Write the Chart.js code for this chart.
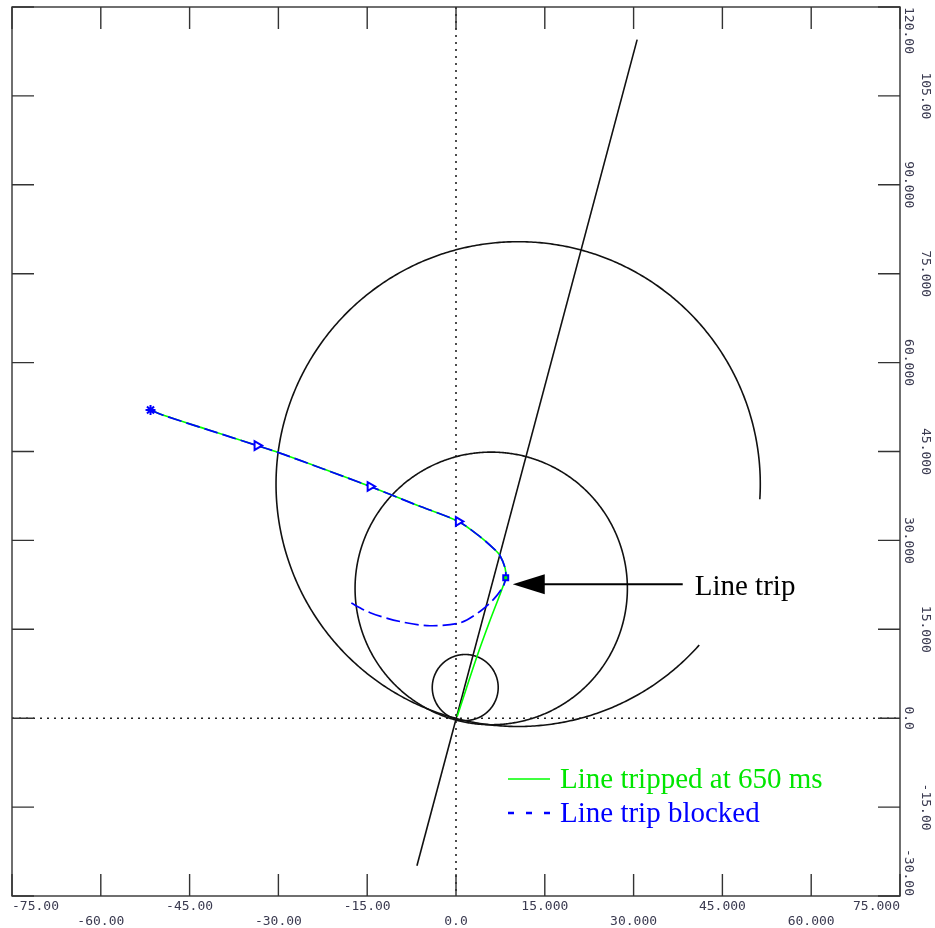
<!DOCTYPE html>
<html><head><meta charset="utf-8">
<script src="https://cdn.jsdelivr.net/npm/chart.js@4/dist/chart.umd.min.js"></script>
<style>html,body{margin:0;padding:0;background:#fff;}#wrap{width:935px;height:928px;position:relative;}</style>
</head><body><div id="wrap"><canvas id="c"></canvas></div>
<script>
// ---- axes ----
const xTickValues = [-75,-60,-45,-30,-15,0,15,30,45,60,75];
const xTickLabels = ['-75.00','-60.00','-45.00','-30.00','-15.00','0.0','15.000','30.000','45.000','60.000','75.000'];
const yTickValues = [120,105,90,75,60,45,30,15,0,-15,-30];
const yTickLabels = ['120.00','105.00','90.000','75.000','60.000','45.000','30.000','15.000','0.0','-15.00','-30.00'];

// ---- impedance trajectory before the trip (common part) ----
const preTripX = [-51.6,-49.4,-42.0,-33.6,-30.2,-22.0,-14.5,-7.0,0.4,4.1,6.6,7.4,8.3,8.4];
const preTripY = [ 52.0, 51.1, 48.7, 46.0, 44.9, 41.9, 39.1,36.1,33.2,30.6,28.4,27.5,25.3,23.7];
// ---- after trip: line tripped at 650 ms ----
const trippedX = [7.7,5.6,3.5,1.8,0.2];
const trippedY = [21.6,16.1,10.3,5.2,0.3];
// ---- after trip: line trip blocked ----
const blockedX = [8.0,6.3,4.1,0.7,-4.4,-9.4,-14.5,-18.2];
const blockedY = [22.3,20.0,18.05,16.1,15.6,16.3,17.8,19.7];
// ---- markers on the trajectory ----
const markerX = [-51.6,-33.6,-14.5,0.4,8.4];
const markerY = [52.0,46.0,39.1,33.2,23.7];
const markerStyle = ['star','triangle','triangle','triangle','rect'];
const tripIndex = 4;

// ---- relay characteristics ----
const circleCX = [10.5, 5.95, 1.56];
const circleCY = [39.5, 21.9, 5.18];
const circleR  = [40.9, 23.0, 5.57];
const circleFromDeg = [-3.6, 0, 0];
const circleToDeg   = [318.6, 360, 360];
const angleLineX = [-6.6, 30.6];
const angleLineY = [-24.9, 114.5];

const legendLabels = ['Line tripped at 650 ms','Line trip blocked'];
const annotationText = 'Line trip';

function pts(xs, ys){ return xs.map((x,i)=>({x:x,y:ys[i]})); }

const GREEN = '#00ff00', BLUE = '#0000ff', AXIS = '#333333';

const framePlugin = {
  id:'frame',
  beforeDatasetsDraw(chart){
    const {ctx, chartArea:a, scales:{x:xs, y:ys}} = chart;
    ctx.save();
    // dotted zero axes
    ctx.strokeStyle = '#222'; ctx.lineWidth = 1.6; ctx.setLineDash([2,5]);
    const x0 = xs.getPixelForValue(0), y0 = ys.getPixelForValue(0);
    ctx.beginPath(); ctx.moveTo(x0, a.top); ctx.lineTo(x0, a.bottom); ctx.stroke();
    ctx.beginPath(); ctx.moveTo(a.left, y0); ctx.lineTo(a.right, y0); ctx.stroke();
    ctx.setLineDash([]);
    // circles (mho characteristics)
    ctx.strokeStyle = '#111'; ctx.lineWidth = 1.6;
    for (let k=0;k<circleCX.length;k++){
      ctx.beginPath();
      let first = true;
      for (let d=circleFromDeg[k]; d<=circleToDeg[k]+1e-9; d+=0.5){
        const t = d*Math.PI/180;
        const px = xs.getPixelForValue(circleCX[k]+circleR[k]*Math.cos(t));
        const py = ys.getPixelForValue(circleCY[k]+circleR[k]*Math.sin(t));
        if(first){ctx.moveTo(px,py);first=false;} else ctx.lineTo(px,py);
      }
      ctx.stroke();
    }
    // frame
    ctx.strokeStyle = AXIS; ctx.lineWidth = 1.4;
    ctx.strokeRect(a.left, a.top, a.right-a.left, a.bottom-a.top);
    const TL = 22;
    ctx.beginPath();
    xTickValues.forEach(v=>{
      const px = xs.getPixelForValue(v);
      ctx.moveTo(px, a.bottom); ctx.lineTo(px, a.bottom-TL);
      ctx.moveTo(px, a.top); ctx.lineTo(px, a.top+TL);
    });
    yTickValues.forEach(v=>{
      const py = ys.getPixelForValue(v);
      ctx.moveTo(a.left, py); ctx.lineTo(a.left+TL, py);
      ctx.moveTo(a.right, py); ctx.lineTo(a.right-TL, py);
    });
    ctx.stroke();
    ctx.restore();
  },
  afterDraw(chart){
    const {ctx, chartArea:a, scales:{x:xs, y:ys}} = chart;
    ctx.save();
    ctx.font = '13px "DejaVu Sans Mono"';
    ctx.fillStyle = '#3a3a50';
    ctx.textBaseline = 'middle';
    // bottom labels, alternating rows
    xTickLabels.forEach((lab,i)=>{
      const w = ctx.measureText(lab).width;
      let cx = xs.getPixelForValue(xTickValues[i]);
      cx = Math.max(a.left + w/2, Math.min(a.right - w/2, cx));
      const cy = a.bottom + (i%2===0 ? 11 : 26);
      ctx.textAlign = 'center';
      ctx.fillText(lab, cx, cy);
    });
    // right labels, rotated, alternating columns
    yTickLabels.forEach((lab,i)=>{
      const w = ctx.measureText(lab).width;
      let cy = ys.getPixelForValue(yTickValues[i]);
      cy = Math.max(a.top + w/2, Math.min(a.bottom - w/2, cy));
      const cx = a.right + (i%2===0 ? 8.5 : 25.5);
      ctx.save(); ctx.translate(cx, cy); ctx.rotate(Math.PI/2);
      ctx.textAlign = 'center'; ctx.fillText(lab, 0, 0); ctx.restore();
    });
    // annotation arrow to trip point
    const tx = xs.getPixelForValue(markerX[tripIndex]) + 7;
    const ty = ys.getPixelForValue(markerY[tripIndex]) + 6.5;
    ctx.strokeStyle = '#000'; ctx.fillStyle = '#000'; ctx.lineWidth = 2;
    ctx.beginPath(); ctx.moveTo(tx+25, ty); ctx.lineTo(tx+170, ty); ctx.stroke();
    ctx.beginPath(); ctx.moveTo(tx, ty); ctx.lineTo(tx+32, ty-10); ctx.lineTo(tx+32, ty+10); ctx.closePath(); ctx.fill();
    ctx.font = '29px "Liberation Serif"';
    ctx.textAlign = 'left'; ctx.textBaseline = 'alphabetic';
    ctx.fillText(annotationText, tx+182, ty+11);
    // legend
    const lx = 508, ly1 = 779, ly2 = 813;
    ctx.strokeStyle = GREEN; ctx.lineWidth = 1.5;
    ctx.beginPath(); ctx.moveTo(lx, ly1); ctx.lineTo(lx+42, ly1); ctx.stroke();
    ctx.fillStyle = '#00e600';
    ctx.fillText(legendLabels[0], lx+52, ly1+9);
    ctx.strokeStyle = BLUE; ctx.lineWidth = 2.5; ctx.setLineDash([6,12]);
    ctx.beginPath(); ctx.moveTo(lx, ly2); ctx.lineTo(lx+42, ly2); ctx.stroke();
    ctx.setLineDash([]);
    ctx.fillStyle = BLUE;
    ctx.fillText(legendLabels[1], lx+52, ly2+9);
    ctx.restore();
  }
};

new Chart(document.getElementById('c'), {
  type:'scatter',
  data:{ datasets:[
    { label:'angle line', order:4, data:pts(angleLineX, angleLineY), showLine:true, borderColor:'#111', borderWidth:1.6, pointRadius:0 },
    { label:legendLabels[0], order:3, data:pts(preTripX.concat(trippedX), preTripY.concat(trippedY)), showLine:true, borderColor:GREEN, borderWidth:1.6, pointRadius:0, tension:0.3 },
    { label:legendLabels[1], order:2, data:pts(preTripX.concat(blockedX), preTripY.concat(blockedY)), showLine:true, borderColor:BLUE, borderWidth:1.7, borderDash:[14,5], pointRadius:0, tension:0.3 },
    { label:'markers', order:1, data:pts(markerX, markerY), showLine:false, pointStyle:markerStyle, pointRadius:[5,5,5,5,3.5], pointRotation:[0,90,90,90,0], borderColor:BLUE, backgroundColor:['#fff','#fff','#fff','#fff',GREEN], borderWidth:2 }
  ]},
  options:{
    responsive:true, maintainAspectRatio:false, animation:false,
    layout:{ padding:{ left:12, right:35, top:7, bottom:32 } },
    plugins:{ legend:{display:false}, tooltip:{enabled:false} },
    scales:{
      x:{ type:'linear', min:-75, max:75, display:false },
      y:{ type:'linear', min:-30, max:120, display:false }
    }
  },
  plugins:[framePlugin]
});
</script></body></html>
